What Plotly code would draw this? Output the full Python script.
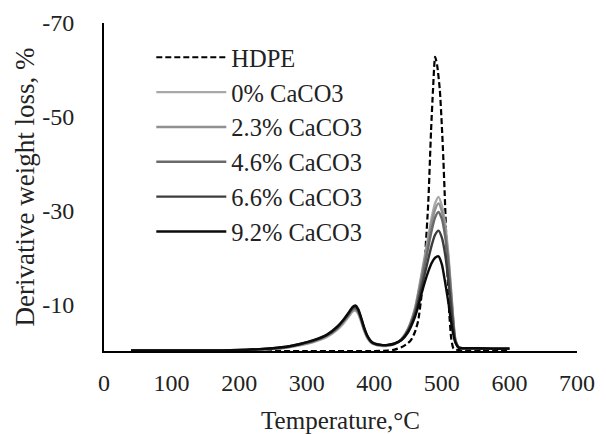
import plotly.graph_objects as go

# ---------------- data ----------------
temp_hdpe = [40, 100, 200, 300, 400, 420, 430, 440, 450, 455, 460, 465, 470, 475, 480,
             484, 487, 490, 493, 497, 500, 502, 505, 508, 511, 514, 517, 520, 530, 560, 600]
hdpe = [0, 0, 0, 0, 0, -0.1, -0.3, -0.8, -1.7, -2.5, -4.0, -6.5, -12.0, -20.0, -32.0,
        -47.0, -56.0, -62.8, -61.0, -55.7, -48.0, -41.7, -30.4, -18.0, -8.0, -2.5, -0.6, -0.3, -0.2, -0.2, -0.2]

temp_c = [40, 100, 150, 200, 230, 250, 270, 290, 310, 330, 345, 355, 362, 368, 372, 376, 380,
          385, 390, 395, 400, 410, 420, 430, 440, 450, 460, 465, 470, 475, 480, 485, 490, 495,
          500, 505, 510, 515, 520, 525, 530, 550, 575, 600]

caco3_0 = [-0.1, -0.1, -0.1, -0.1, -0.3, -0.4, -0.7, -1.2, -1.9, -3.0, -4.5, -6.0, -7.3, -8.4, -8.6, -8.0, -6.5,
           -4.3, -2.7, -1.8, -1.4, -1.1, -1.1, -1.5, -2.5, -4.8, -9.0, -12.5, -16.5, -20.5, -24.5, -28.5, -31.5, -32.9,
           -31.0, -27.0, -20.0, -10.5, -2.5, -0.8, -0.6, -0.6, -0.5, -0.5]
caco3_23 = [-0.1, -0.1, -0.1, -0.1, -0.3, -0.5, -0.8, -1.3, -2.0, -3.2, -4.7, -6.3, -7.6, -8.7, -8.9, -8.3, -6.8,
            -4.5, -2.9, -1.9, -1.5, -1.2, -1.2, -1.5, -2.5, -4.7, -8.8, -12.2, -16.0, -19.8, -23.6, -27.4, -30.2, -31.5,
            -29.8, -25.8, -19.2, -10.0, -2.4, -0.8, -0.6, -0.6, -0.5, -0.5]
caco3_46 = [-0.1, -0.1, -0.1, -0.1, -0.3, -0.5, -0.8, -1.4, -2.1, -3.3, -4.9, -6.5, -7.8, -8.9, -9.1, -8.5, -7.0,
            -4.7, -3.0, -2.0, -1.5, -1.2, -1.2, -1.5, -2.4, -4.5, -8.4, -11.5, -15.0, -18.6, -22.2, -25.8, -28.5, -29.7,
            -28.2, -24.3, -17.9, -9.2, -2.2, -0.8, -0.6, -0.6, -0.5, -0.5]
caco3_66 = [-0.1, -0.1, -0.1, -0.2, -0.4, -0.6, -0.9, -1.5, -2.2, -3.4, -5.0, -6.7, -8.0, -9.2, -9.4, -8.8, -7.2,
            -4.9, -3.1, -2.0, -1.6, -1.3, -1.3, -1.6, -2.4, -4.3, -7.8, -10.5, -13.6, -16.6, -19.7, -22.6, -24.8, -25.7,
            -24.2, -20.5, -14.6, -7.4, -2.0, -0.7, -0.6, -0.6, -0.5, -0.5]
caco3_92 = [-0.1, -0.1, -0.1, -0.2, -0.4, -0.6, -0.9, -1.5, -2.3, -3.5, -5.2, -6.8, -8.2, -9.4, -9.7, -9.0, -7.4,
            -5.0, -3.2, -2.1, -1.6, -1.3, -1.3, -1.6, -2.3, -4.0, -7.2, -9.5, -12.3, -14.8, -17.0, -18.8, -19.9, -20.2,
            -18.5, -14.5, -10.0, -5.0, -1.8, -0.7, -0.6, -0.6, -0.5, -0.5]

series_names = ["0% CaCO3", "2.3% CaCO3", "4.6% CaCO3", "6.6% CaCO3", "9.2% CaCO3"]
series_values = [caco3_0, caco3_23, caco3_46, caco3_66, caco3_92]
series_colors = ["#a8a8a8", "#909090", "#6a6a6a", "#3c3c3c", "#0a0a0a"]

x_ticks = [0, 100, 200, 300, 400, 500, 600, 700]
y_ticks = [-70, -50, -30, -10]
y_tick_labels = ["-70", "-50", "-30", "-10"]

FONT = "Liberation Serif"

fig = go.Figure()
fig.add_trace(go.Scatter(x=temp_hdpe, y=hdpe, mode="lines", name="HDPE",
                         line=dict(color="#000000", width=2.2, dash="6px,3px", shape="spline", smoothing=0.6),
                         legendgroup="a"))
for i, (nm, vals, col) in enumerate(zip(series_names, series_values, series_colors)):
    fig.add_trace(go.Scatter(x=temp_c, y=vals, mode="lines", name=nm,
                             line=dict(color=col, width=2.4, shape="spline", smoothing=0.6),
                             legendgroup="g%d" % i))

# page body has an 8px default margin, so the figure is offset by 8px
fig.update_layout(
    width=598, height=426,
    margin=dict(l=96, r=29, t=15, b=83, autoexpand=False),
    paper_bgcolor="white", plot_bgcolor="white",
    font=dict(family=FONT, size=24, color="#222222"),
    showlegend=True,
    legend=dict(x=0.1, y=0.964, xanchor="left", yanchor="top",
                bgcolor="rgba(0,0,0,0)", font=dict(family=FONT, size=24.5, color="#222222"),
                itemwidth=70, tracegroupgap=0, traceorder="normal"),
    xaxis=dict(range=[0, 700], tickvals=x_ticks, showgrid=False, zeroline=False,
               showline=True, linecolor="#000000", linewidth=2, ticks="", automargin=False,
               ticklabelstandoff=9, ticklabeloverflow="allow", tickfont=dict(family=FONT, size=24),
               title=dict(text="Temperature,°C", font=dict(family=FONT, size=25), standoff=23)),
    yaxis=dict(range=[0, -70], tickvals=y_ticks, ticktext=y_tick_labels, showgrid=False,
               zeroline=False, showline=True, linecolor="#000000", linewidth=2, ticks="", automargin=False,
               ticklabelstandoff=23, ticklabeloverflow="allow", tickfont=dict(family=FONT, size=24),
               title=dict(text="Derivative weight loss, %", font=dict(family=FONT, size=27), standoff=0)),
)

fig.write_html("out.html")
